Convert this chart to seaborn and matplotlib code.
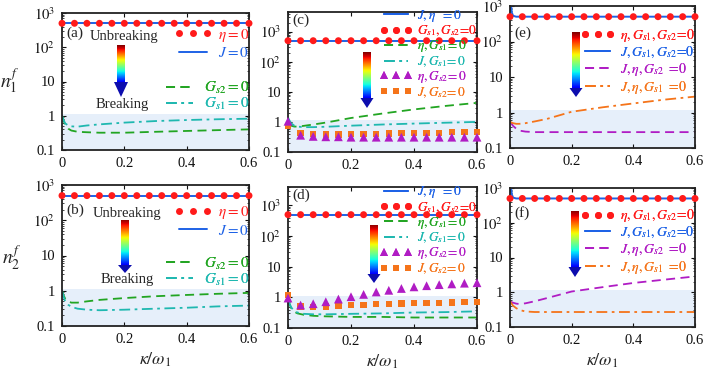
import numpy as np
import matplotlib
matplotlib.use('Agg')
import matplotlib.pyplot as plt
from matplotlib.lines import Line2D
from matplotlib.patches import Polygon
from matplotlib.ticker import LogLocator, NullFormatter
import seaborn as sns

sns.set_theme(style='ticks')
plt.rcParams['font.family'] = ['Liberation Serif', 'DejaVu Serif']
plt.rcParams['mathtext.fontset'] = 'stix'

RED = '#ff1a1a'
BLUE = '#1e62e6'
GREEN = '#22a522'
CYAN = '#1fb8b0'
PURPLE = '#b01cc4'
ORANGE = '#f5741a'
SHADE = '#e6effa'

# ---- data ----
kap_dots = [0, 0.04, 0.08, 0.12, 0.16, 0.2, 0.24, 0.28, 0.32, 0.36, 0.4, 0.44, 0.48, 0.52, 0.56, 0.6]
n_top = [500, 500, 500, 500, 500, 500, 500, 500, 500, 500, 500, 500, 500, 500, 500, 500]

kap_line = [0, 0.005, 0.01, 0.02, 0.03, 0.05, 0.08, 0.12, 0.2, 0.3, 0.4, 0.5, 0.6]
kap_flat = [0, 0.6]
n_flat = [500, 500]
kap_spike = [0, 0.003, 0.006, 0.01, 0.02, 0.6]
n_spike = [3000, 1100, 650, 530, 500, 500]

# (a) n1
a_gs2 = [1.0, 0.75, 0.55, 0.42, 0.37, 0.34, 0.33, 0.32, 0.32, 0.34, 0.36, 0.38, 0.40]
a_gs1 = [1.0, 0.75, 0.6, 0.52, 0.49, 0.48, 0.52, 0.56, 0.63, 0.7, 0.75, 0.79, 0.82]
# (b) n2
b_gs2 = [1.0, 0.75, 0.6, 0.5, 0.46, 0.46, 0.5, 0.55, 0.62, 0.7, 0.76, 0.82, 0.87]
b_gs1 = [1.0, 0.7, 0.5, 0.4, 0.35, 0.31, 0.29, 0.28, 0.29, 0.31, 0.33, 0.36, 0.38]
# (c) n1
c_eta_gs1 = [0.85, 0.8, 0.75, 0.7, 0.7, 0.74, 0.82, 0.95, 1.35, 1.9, 2.6, 3.4, 4.3]
c_j_gs1 = [1.4, 1.1, 0.9, 0.75, 0.7, 0.67, 0.67, 0.69, 0.75, 0.82, 0.88, 0.94, 1.0]
c_eta_gs2 = [1.05, 0.36, 0.33, 0.32, 0.32, 0.31, 0.31, 0.31, 0.31, 0.31, 0.31, 0.31, 0.31, 0.31, 0.31, 0.31]
c_j_gs2 = [0.72, 0.42, 0.39, 0.38, 0.38, 0.39, 0.39, 0.40, 0.41, 0.42, 0.43, 0.44, 0.44, 0.45, 0.46, 0.46]
# (d) n2
d_eta_gs1 = [0.8, 0.6, 0.45, 0.34, 0.3, 0.27, 0.25, 0.24, 0.23, 0.23, 0.22, 0.22, 0.22]
d_j_gs1 = [0.85, 0.62, 0.47, 0.36, 0.32, 0.29, 0.28, 0.28, 0.29, 0.3, 0.32, 0.33, 0.35]
d_eta_gs2 = [0.95, 0.56, 0.62, 0.72, 0.88, 1.05, 1.25, 1.5, 1.7, 1.95, 2.2, 2.4, 2.6, 2.75, 2.9, 3.0]
d_j_gs2 = [1.2, 0.5, 0.48, 0.5, 0.52, 0.55, 0.57, 0.59, 0.61, 0.63, 0.64, 0.66, 0.67, 0.68, 0.69, 0.7]
# (e) n1
e_j_eta_gs2 = [0.55, 0.48, 0.42, 0.35, 0.31, 0.29, 0.28, 0.28, 0.28, 0.28, 0.28, 0.28, 0.28]
e_j_eta_gs1 = [0.55, 0.52, 0.5, 0.48, 0.48, 0.5, 0.56, 0.66, 1.05, 1.4, 1.8, 2.3, 2.8]
# (f) n2
f_j_eta_gs2 = [0.55, 0.52, 0.5, 0.47, 0.46, 0.48, 0.55, 0.68, 1.05, 1.4, 1.85, 2.3, 2.85]
f_j_eta_gs1 = [0.55, 0.47, 0.41, 0.35, 0.31, 0.28, 0.27, 0.27, 0.27, 0.27, 0.27, 0.27, 0.27]

W, H = 705, 377
fig = plt.figure(figsize=(7.05, 3.77), dpi=100)


def box(x0, x1, y0, y1):
    return [x0 / W, 1 - y1 / H, (x1 - x0) / W, (y1 - y0) / H]


def style(ax, top, tag, tag_y):
    ax.set_yscale('log')
    ax.set_xlim(0, 0.6)
    ax.set_ylim(0.1, top)
    ax.axhspan(0.1, 1.15, color=SHADE, zorder=0, lw=0)
    ax.set_xticks([0, 0.2, 0.4, 0.6])
    ax.set_xticklabels(['0', '0.2', '0.4', '0.6'])
    ax.set_yticks([0.1, 1, 10, 100, 1000])
    ax.set_yticklabels(['0.1', '1', '10', r'$10^2$', r'$10^3$'])
    ax.yaxis.set_minor_locator(LogLocator(subs=np.arange(2, 10)))
    ax.yaxis.set_minor_formatter(NullFormatter())
    ax.tick_params(direction='in', top=True, right=True, labelsize=10.5,
                   length=3, width=0.8, pad=5, colors='#111111')
    ax.tick_params(which='minor', direction='in', right=True, length=1.5, width=0.6)
    for s in ax.spines.values():
        s.set_linewidth(1.3)
        s.set_color('#222222')
    ax.text(0.025, tag_y, tag, transform=ax.transAxes, fontsize=11, va='center')


def line(ax, x, y, color, ls='-', lw=1.3):
    sns.lineplot(x=x, y=y, ax=ax, color=color, linestyle=ls, lw=lw)


def dots(ax, x, y, color, marker, s):
    sns.scatterplot(x=x, y=y, ax=ax, color=color, marker=marker, s=s,
                    edgecolor='none', zorder=5, clip_on=False)


def grad_arrow(xc, ytop, ybar, yhead, bar_w=8, head_w=14):
    cax = fig.add_axes(box(xc - bar_w / 2, xc + bar_w / 2, ytop, ybar))
    cax.imshow(np.linspace(1, 0.12, 100)[:, None], cmap='jet', aspect='auto', vmin=0, vmax=1)
    cax.axis('off')
    tri = Polygon([[(xc - head_w / 2) / W, 1 - ybar / H], [(xc + head_w / 2) / W, 1 - ybar / H],
                   [xc / W, 1 - yhead / H]], closed=True, transform=fig.transFigure,
                  color='#0c0cae', lw=0)
    fig.add_artist(tri)


def legend(ax, handles, labels, anchor, fs, spacing, hl=2.4):
    leg = ax.legend(handles, labels, loc='upper right', bbox_to_anchor=anchor, frameon=False,
                    fontsize=fs, labelspacing=spacing, handlelength=hl, handletextpad=0.4,
                    borderaxespad=0, borderpad=0, numpoints=3, labelcolor='linecolor')
    ax.add_artist(leg)


DASH = (0, (5, 3))
DDOT = (0, (6, 2.5, 1.5, 2.5))

h_red = Line2D([], [], color=RED, marker='o', ls='none', ms=5, mew=0)
h_blue = Line2D([], [], color=BLUE, lw=1.4)
h_green = Line2D([], [], color=GREEN, ls=DASH, lw=1.3)
h_cyan = Line2D([], [], color=CYAN, ls=DDOT, lw=1.3)
h_tri = Line2D([], [], color=PURPLE, marker='^', ls='none', ms=5.5, mew=0)
h_sq = Line2D([], [], color=ORANGE, marker='s', ls='none', ms=4.2, mew=0)
h_pdash = Line2D([], [], color=PURPLE, ls=DASH, lw=1.3)
h_odash = Line2D([], [], color=ORANGE, ls=DDOT, lw=1.3)

# ---- (a) ----
ax = fig.add_axes(box(62, 249, 13, 150))
style(ax, 1000, '(a)', 0.85)
line(ax, kap_line, a_gs2, GREEN, DASH)
line(ax, kap_line, a_gs1, CYAN, DDOT)
line(ax, kap_flat, n_flat, BLUE, '-', 1.4)
dots(ax, kap_dots, n_top, RED, 'o', 25)
legend(ax, [h_red, h_blue], [r'$\eta = 0$', r'$J = 0$'], (1.0, 0.90), 11, 0.18)
legend(ax, [h_green, h_cyan], [r'$G_{s2} = 0$', r'$G_{s1} = 0$'], (1.0, 0.51), 11, 0.0)
ax.set_ylabel(r'$n_1^f$', fontsize=14, rotation=0, va='center', ha='center')
ax.yaxis.set_label_coords(-0.28, 0.51)
ax.text(0.33, 0.83, 'Unbreaking', transform=ax.transAxes, fontsize=10.5, ha='center', va='center')
ax.text(0.32, 0.33, 'Breaking', transform=ax.transAxes, fontsize=10.5, ha='center', va='center')
grad_arrow(121, 45, 82, 97)

# ---- (b) ----
ax = fig.add_axes(box(62, 249, 185, 326))
style(ax, 1000, '(b)', 0.82)
line(ax, kap_line, b_gs2, GREEN, DASH)
line(ax, kap_line, b_gs1, CYAN, DDOT)
line(ax, kap_flat, n_flat, BLUE, '-', 1.4)
dots(ax, kap_dots, n_top, RED, 'o', 25)
legend(ax, [h_red, h_blue], [r'$\eta = 0$', r'$J = 0$'], (1.0, 0.865), 11, 0.18)
legend(ax, [h_green, h_cyan], [r'$G_{s2} = 0$', r'$G_{s1} = 0$'], (1.0, 0.50), 11, 0.0)
ax.set_ylabel(r'$n_2^f$', fontsize=14, rotation=0, va='center', ha='center')
ax.yaxis.set_label_coords(-0.27, 0.48)
ax.set_xlabel(r'$\kappa/\omega_1$', fontsize=13, labelpad=3)
ax.text(0.35, 0.80, 'Unbreaking', transform=ax.transAxes, fontsize=10.5, ha='center', va='center')
ax.text(0.35, 0.33, 'Breaking', transform=ax.transAxes, fontsize=10.5, ha='center', va='center')
grad_arrow(125, 220, 265, 273)

labels_cd = [r'$J,\eta\ \ = 0$', r'$G_{s1},G_{s2}\!=\!0$', r'$\eta,G_{s1}\!=0$',
             r'$J,G_{s1}\!=0$', r'$\eta,G_{s2}\!=0$', r'$J,G_{s2}\!=0$']

# ---- (c) ----
ax = fig.add_axes(box(288, 477, 12, 152))
style(ax, 4500, '(c)', 0.94)
line(ax, kap_line, c_eta_gs1, GREEN, DASH)
line(ax, kap_line, c_j_gs1, CYAN, DDOT)
dots(ax, kap_dots, c_j_gs2, ORANGE, 's', 20)
dots(ax, kap_dots, c_eta_gs2, PURPLE, '^', 40)
line(ax, kap_flat, n_flat, BLUE, '-', 1.4)
dots(ax, kap_dots, n_top, RED, 'o', 25)
legend(ax, [h_blue, h_red, h_green, h_cyan, h_tri, h_sq], labels_cd, (1.0, 1.03), 9.5, 0.0)
grad_arrow(367, 52, 98, 108, 8, 13)

# ---- (d) ----
ax = fig.add_axes(box(288, 477, 187, 328))
style(ax, 4000, '(d)', 0.94)
line(ax, kap_line, d_eta_gs1, GREEN, DASH)
line(ax, kap_line, d_j_gs1, CYAN, DDOT)
dots(ax, kap_dots, d_j_gs2, ORANGE, 's', 20)
dots(ax, kap_dots, d_eta_gs2, PURPLE, '^', 40)
line(ax, kap_flat, n_flat, BLUE, '-', 1.4)
dots(ax, kap_dots, n_top, RED, 'o', 25)
legend(ax, [h_blue, h_red, h_green, h_cyan, h_tri, h_sq], labels_cd, (1.0, 1.02), 9.5, 0.0)
ax.set_xlabel(r'$\kappa/\omega_1$', fontsize=13, labelpad=3)
grad_arrow(374, 225, 274, 283, 8, 13)

labels_ef = [r'$\eta,G_{s1},G_{s2}\!=\!0$', r'$J,G_{s1},G_{s2}\!=\!0$',
             r'$J,\eta,G_{s2}\ =\!0$', r'$J,\eta,G_{s1}\ =\!0$']

# ---- (e) ----
ax = fig.add_axes(box(510, 695, 6, 148))
style(ax, 1000, '(e)', 0.81)
line(ax, kap_line, e_j_eta_gs2, PURPLE, DASH)
line(ax, kap_line, e_j_eta_gs1, ORANGE, DDOT)
line(ax, kap_spike, n_spike, BLUE, '-', 1.4)
dots(ax, kap_dots, n_top, RED, 'o', 25)
legend(ax, [h_red, h_blue, h_pdash, h_odash], labels_ef, (1.0, 0.85), 10, 0.05)
grad_arrow(576, 32, 88, 97, 8, 13)

# ---- (f) ----
ax = fig.add_axes(box(510, 695, 188, 327))
style(ax, 1000, '(f)', 0.82)
line(ax, kap_line, f_j_eta_gs2, PURPLE, DASH)
line(ax, kap_line, f_j_eta_gs1, ORANGE, DDOT)
line(ax, kap_spike, n_spike, BLUE, '-', 1.4)
dots(ax, kap_dots, n_top, RED, 'o', 25)
legend(ax, [h_red, h_blue, h_pdash, h_odash], labels_ef, (1.0, 0.86), 10, 0.05)
ax.set_xlabel(r'$\kappa/\omega_1$', fontsize=13, labelpad=3)
grad_arrow(575, 211, 267, 277, 8, 13)

fig.savefig('out.png', dpi=100)
